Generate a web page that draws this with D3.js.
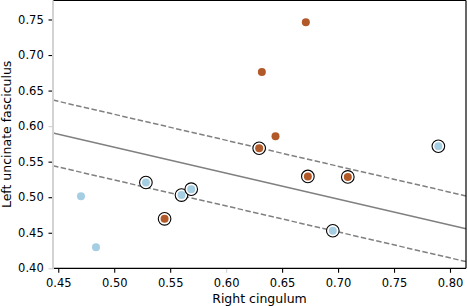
<!DOCTYPE html>
<html lang="en">
<head>
<meta charset="UTF-8">
<title>Left uncinate vs right cingulum</title>
<script src="https://d3js.org/d3.v7.min.js"></script>
<style>
    body { margin: 0; background: #fff; }
    text { font-family: "DejaVu Sans", sans-serif; fill: #000; }
</style>
</head>
<body>
<svg width="468" height="306"></svg>
<script>
// group A (light blue) and group B (brown); ringed = flagged points
const blueX = [0.4703, 0.4837, 0.5283, 0.5601, 0.5688, 0.6953, 0.7896];
const blueY = [0.5015, 0.4295, 0.5207, 0.5030, 0.5113, 0.4528, 0.5717];
const blueRing = [false, false, true, true, true, true, true];

const brownX = [0.5450, 0.6295, 0.6730, 0.7087, 0.6712, 0.6319, 0.6441];
const brownY = [0.4696, 0.5689, 0.5292, 0.5286, 0.7462, 0.6760, 0.5857];
const brownRing = [true, true, true, true, false, false, false];

// fitted line and band
const fitSlope = -0.3653;
const fitAt045 = 0.5887;
const band = 0.0462;

const xTicks = [0.45, 0.50, 0.55, 0.60, 0.65, 0.70, 0.75, 0.80];
const yTicks = [0.40, 0.45, 0.50, 0.55, 0.60, 0.65, 0.70, 0.75];

const svg = d3.select("svg");
const mLeft = 53, mRight = 466, mTop = 0.5, mBottom = 268.3;

const x = d3.scaleLinear().domain([0.4453, 0.8143]).range([mLeft, mRight]);
const y = d3.scaleLinear().domain([0.40, 0.7767]).range([mBottom, mTop]);

const pts = [];
blueX.forEach((v, i) => pts.push({ x: v, y: blueY[i], c: "#a6cee3", ring: blueRing[i] }));
brownX.forEach((v, i) => pts.push({ x: v, y: brownY[i], c: "#b15928", ring: brownRing[i] }));

// lines
const x0 = x.domain()[0], x1 = x.domain()[1];
const fit = v => fitAt045 + fitSlope * (v - 0.45);
const lines = [
    { off: 0, dash: null },
    { off: band, dash: "5.5,2.4" },
    { off: -band, dash: "5.5,2.4" }
];
svg.append("g").selectAll("line").data(lines).enter().append("line")
    .attr("x1", x(x0)).attr("x2", x(x1))
    .attr("y1", d => y(fit(x0) + d.off))
    .attr("y2", d => y(fit(x1) + d.off))
    .attr("stroke", "#808080")
    .attr("stroke-width", 1.5)
    .attr("stroke-dasharray", d => d.dash);

// rings then dots
svg.append("g").selectAll("circle").data(pts.filter(d => d.ring)).enter().append("circle")
    .attr("cx", d => x(d.x)).attr("cy", d => y(d.y)).attr("r", 6.3)
    .attr("fill", "#fff").attr("stroke", "#000").attr("stroke-width", 1.1);
svg.append("g").selectAll("circle").data(pts).enter().append("circle")
    .attr("cx", d => x(d.x)).attr("cy", d => y(d.y)).attr("r", 4)
    .attr("fill", d => d.c);

// axes
const xAxis = svg.append("g").attr("transform", `translate(0,${mBottom})`)
    .call(d3.axisBottom(x).tickValues(xTicks).tickFormat(d3.format(".2f")).tickSize(4.5).tickPadding(6.5));
const yAxis = svg.append("g").attr("transform", `translate(${mLeft},0)`)
    .call(d3.axisLeft(y).tickValues(yTicks).tickFormat(d3.format(".2f")).tickSize(4.5).tickPadding(4.8));
[xAxis, yAxis].forEach(a => {
    a.select(".domain").remove();
    a.selectAll("text").attr("font-family", "DejaVu Sans").attr("font-size", 11.5);
    a.selectAll(".tick line").attr("stroke-width", 1.1)
        .attr("stroke", d => Math.abs(d - 0.60) < 1e-9 ? "#d0d0d0" : "#000");
});
yAxis.selectAll(".tick line").filter(d => d === 0.40).attr("stroke", "#d0d0d0");

// spines
svg.append("line").attr("x1", mLeft).attr("x2", mRight).attr("y1", mTop).attr("y2", mTop)
    .attr("stroke", "#000").attr("stroke-width", 1.2);
svg.append("line").attr("x1", mRight).attr("x2", mRight).attr("y1", mTop).attr("y2", mBottom)
    .attr("stroke", "#000").attr("stroke-width", 1.2);
svg.append("line").attr("x1", mLeft).attr("x2", mRight).attr("y1", mBottom).attr("y2", mBottom)
    .attr("stroke", "#000").attr("stroke-width", 1.2);
svg.append("line").attr("x1", mLeft).attr("x2", mLeft).attr("y1", mTop).attr("y2", mBottom + 1)
    .attr("stroke", "#d3d3d3").attr("stroke-width", 2);

// labels
svg.append("text").attr("x", (mLeft + mRight) / 2).attr("y", 303).attr("text-anchor", "middle")
    .attr("font-size", 12.5).text("Right cingulum");
svg.append("text").attr("transform", `translate(10.5,${(mTop + mBottom) / 2}) rotate(-90)`)
    .attr("text-anchor", "middle").attr("font-size", 12.5).text("Left uncinate fasciculus");
</script>
</body>
</html>
